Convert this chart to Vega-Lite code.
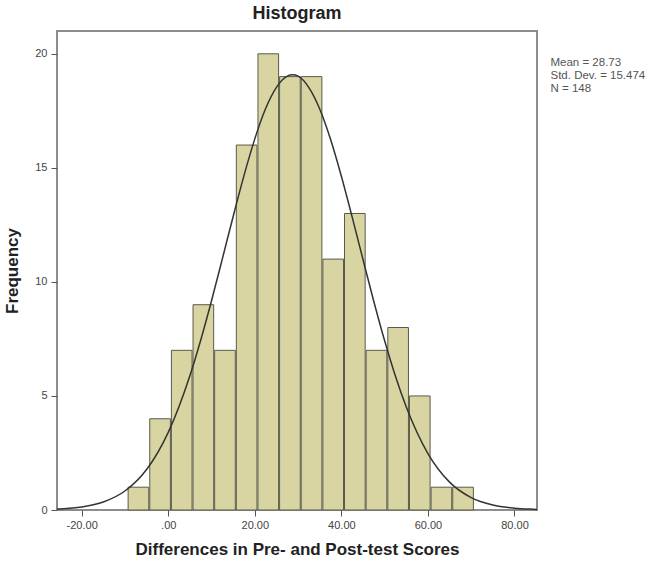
{
  "$schema": "https://vega.github.io/schema/vega-lite/v6.json",
  "autosize": "none",
  "width": 480,
  "height": 479,
  "padding": {"left": 57, "top": 31, "right": 117, "bottom": 56},
  "background": "white",
  "title": {"text": "Histogram", "fontSize": 18, "font": "Liberation Sans", "fontWeight": "bold", "color": "#222222", "offset": 8, "anchor": "middle"},
  "config": {
    "view": {"fill": "#f0f0f0", "stroke": "#8c8c8c", "strokeWidth": 2},
    "font": "Liberation Sans"
  },
  "datasets": {
    "bins": [
      {"bin_start": -9.5, "bin_end": -4.5, "count": 1},
      {"bin_start": -4.5, "bin_end": 0.5, "count": 4},
      {"bin_start": 0.5, "bin_end": 5.5, "count": 7},
      {"bin_start": 5.5, "bin_end": 10.5, "count": 9},
      {"bin_start": 10.5, "bin_end": 15.5, "count": 7},
      {"bin_start": 15.5, "bin_end": 20.5, "count": 16},
      {"bin_start": 20.5, "bin_end": 25.5, "count": 20},
      {"bin_start": 25.5, "bin_end": 30.5, "count": 19},
      {"bin_start": 30.5, "bin_end": 35.5, "count": 19},
      {"bin_start": 35.5, "bin_end": 40.5, "count": 11},
      {"bin_start": 40.5, "bin_end": 45.5, "count": 13},
      {"bin_start": 45.5, "bin_end": 50.5, "count": 7},
      {"bin_start": 50.5, "bin_end": 55.5, "count": 8},
      {"bin_start": 55.5, "bin_end": 60.5, "count": 5},
      {"bin_start": 60.5, "bin_end": 65.5, "count": 1},
      {"bin_start": 65.5, "bin_end": 70.5, "count": 1}
    ],
    "curve": [
      {"x": -25.7, "density": 0.039},
      {"x": -25, "density": 0.046},
      {"x": -20, "density": 0.134},
      {"x": -15, "density": 0.352},
      {"x": -10, "density": 0.832},
      {"x": -5, "density": 1.773},
      {"x": 0, "density": 3.402},
      {"x": 5, "density": 5.886},
      {"x": 7.5, "density": 7.445},
      {"x": 10, "density": 9.172},
      {"x": 12.5, "density": 11.01},
      {"x": 15, "density": 12.87},
      {"x": 17.5, "density": 14.66},
      {"x": 20, "density": 16.27},
      {"x": 22.5, "density": 17.6},
      {"x": 25, "density": 18.53},
      {"x": 27.5, "density": 19.02},
      {"x": 28.73, "density": 19.08},
      {"x": 30, "density": 19.02},
      {"x": 32.5, "density": 18.52},
      {"x": 35, "density": 17.58},
      {"x": 37.5, "density": 16.25},
      {"x": 40, "density": 14.63},
      {"x": 42.5, "density": 12.84},
      {"x": 45, "density": 10.98},
      {"x": 47.5, "density": 9.143},
      {"x": 50, "density": 7.418},
      {"x": 52.5, "density": 5.864},
      {"x": 55, "density": 4.516},
      {"x": 60, "density": 2.477},
      {"x": 65, "density": 1.223},
      {"x": 70, "density": 0.544},
      {"x": 75, "density": 0.218},
      {"x": 80, "density": 0.079},
      {"x": 85, "density": 0.026},
      {"x": 85.2, "density": 0.024}
    ],
    "stats": [
      {"label": "Mean = 28.73"},
      {"label": "Std. Dev. = 15.474"},
      {"label": "N = 148"}
    ]
  },
  "layer": [
    {
      "data": {"name": "bins"},
      "mark": {"type": "bar", "fill": "#d9d5a3", "stroke": "#5a5a4a", "strokeWidth": 1},
      "encoding": {
        "x": {
          "field": "bin_start", "type": "quantitative", "bin": {"binned": true},
          "scale": {"domain": [-25.7, 85.2], "nice": false, "zero": false},
          "title": "Differences in Pre- and Post-test Scores",
          "axis": {
            "values": [-20, 0, 20, 40, 60, 80],
            "labelExpr": "datum.value == 0 ? '.00' : (datum.value < 0 ? '-' + format(-datum.value, '.2f') : format(datum.value, '.2f'))",
            "domain": false, "grid": false, "tickSize": 6, "tickColor": "#555555",
            "labelFontSize": 11, "labelColor": "#444444", "labelPadding": 3,
            "titleFontSize": 17, "titleFontWeight": "bold", "titleColor": "#222222", "titlePadding": 11
          }
        },
        "x2": {"field": "bin_end"},
        "y": {
          "field": "count", "type": "quantitative",
          "scale": {"domain": [0, 21], "nice": false},
          "title": "Frequency",
          "axis": {
            "values": [0, 5, 10, 15, 20],
            "domain": false, "grid": false, "tickSize": 6, "tickColor": "#555555",
            "labelFontSize": 11, "labelColor": "#444444", "labelPadding": 4,
            "titleFontSize": 17, "titleFontWeight": "bold", "titleColor": "#222222", "titlePadding": 13
          }
        }
      }
    },
    {
      "data": {"name": "curve"},
      "mark": {"type": "line", "color": "#333333", "strokeWidth": 1.5, "interpolate": "monotone"},
      "encoding": {
        "x": {"field": "x", "type": "quantitative"},
        "y": {"field": "density", "type": "quantitative"}
      }
    },
    {
      "data": {"name": "stats"},
      "mark": {"type": "point", "opacity": 0},
      "encoding": {
        "color": {
          "field": "label", "type": "nominal",
          "scale": {"domain": ["Mean = 28.73", "Std. Dev. = 15.474", "N = 148"], "range": ["#ffffff", "#ffffff", "#ffffff"]},
          "legend": {
            "orient": "none", "legendX": 482, "legendY": 26, "title": null,
            "symbolSize": 0, "symbolOpacity": 0, "symbolStrokeWidth": 0,
            "labelFontSize": 11.5, "labelColor": "#555555", "labelOffset": 0,
            "padding": 0, "rowPadding": 0, "labelFont": "Liberation Sans"
          }
        }
      }
    }
  ]
}
